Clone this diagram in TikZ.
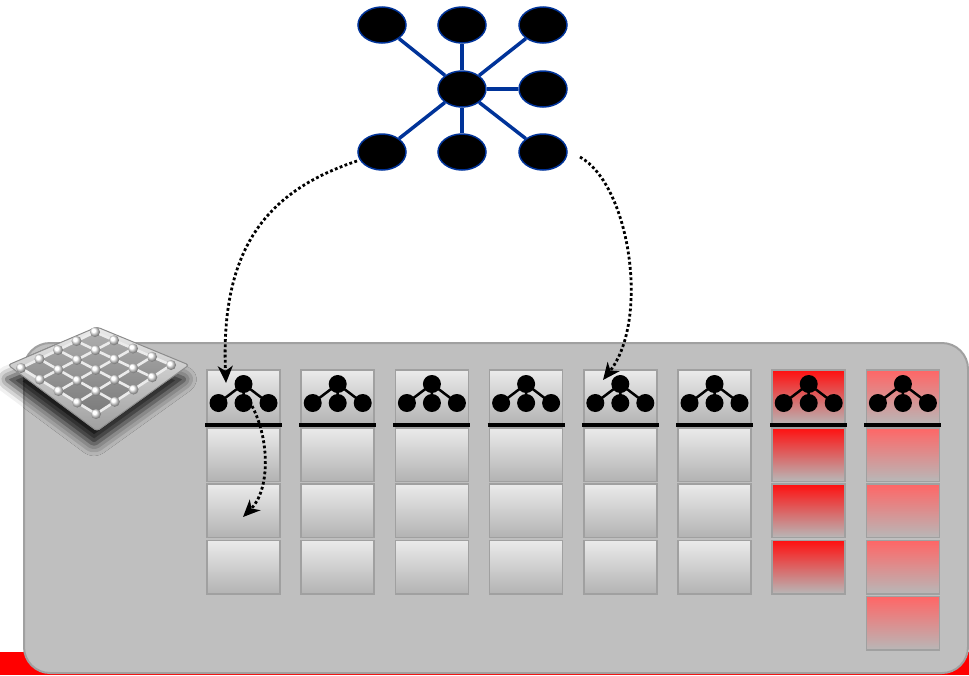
\documentclass[tikz,border=0pt]{standalone}
\usepackage{tikz}
\usetikzlibrary{
	positioning,
	arrows.meta,
	shapes.geometric,
	calc,
	shadows.blur
}

\definecolor{linkblue}{RGB}{0,51,153}
\definecolor{panelgrey}{RGB}{191,191,191}
\definecolor{rimgrey}{RGB}{160,160,160}
\definecolor{hotred}{RGB}{255,16,16}
\definecolor{warmred}{RGB}{255,102,102}

\begin{document}
\begin{tikzpicture}[
			x=1pt,y=-1pt,
			node distance=21.2pt,
			vertex/.style={
				ellipse,
				draw=linkblue,
				line width=1.5pt,
				fill=black,
				minimum width=48pt,
				minimum height=36pt,
				inner sep=0pt
			},
			link/.style={draw=linkblue,line width=3.5pt},
			cell/.style={
				draw=rimgrey,
				line width=1.5pt,
				top color=black!8,
				bottom color=black!30,
				minimum width=73pt,
				minimum height=53.5pt,
				inner sep=0pt,
				outer sep=0pt
			},
			hotcell/.style={cell,top color=hotred,bottom color=black!28},
			warmcell/.style={cell,top color=warmred,bottom color=black!28},
			head/.style={minimum height=55pt},
			bar/.style={line width=3.5pt,black},
			wire/.style={white!92!black,line width=2.6pt},
			hop/.style={
				line width=2.8pt,
				dash pattern=on 2.8pt off 2.4pt,
				black,
				-{Stealth[length=17pt,width=15pt,inset=5pt]}
			},
			tree/.pic={
				\draw[line width=2.5pt] (-25,33) -- (0,14) -- (25,33) (0,14) -- (0,33);
				\fill (0,14) circle (9pt);
				\fill (-25,33) circle (9pt) (0,33) circle (9pt) (25,33) circle (9pt);
			}
			]
			
			\useasboundingbox (0,0) rectangle (969,675);
			
			\fill[red] (0,652) rectangle (969,675);
			\draw[fill=panelgrey,draw=rimgrey,line width=2pt,rounded corners=26pt]
				(24,343) rectangle (968,673);
			
			\coordinate (pl) at (8,365);
			\coordinate (pt) at (97,327);
			\coordinate (pr) at (189,365);
			\coordinate (pb) at (97,431);
			\coordinate (gl) at (21,368);
			\coordinate (gt) at (95,332);
			\coordinate (gr) at (171,365);
			\coordinate (gb) at (96,414);
			
			\fill[black!40,blur shadow={shadow xshift=-3pt,shadow yshift=-14pt,shadow blur radius=12pt,shadow opacity=90},rounded corners=3pt]
				(pl) -- (pt) -- (pr) -- (pb) -- cycle;
			\shade[top color=black!8,bottom color=black!38,draw=black!45,line width=1pt,rounded corners=3pt]
				(pl) -- (pt) -- (pr) -- (pb) -- cycle;
			\shade[top color=black!32,bottom color=black!52,draw=black!15,line width=1.5pt]
				(gl) -- (gt) -- (gr) -- (gb) -- cycle;
			\foreach \s in {0,0.25,0.5,0.75,1} {
				\draw[wire] ($(gl)!\s!(gt)$) -- ($(gb)!\s!(gr)$);
				\draw[wire] ($(gl)!\s!(gb)$) -- ($(gt)!\s!(gr)$);
			}
			\foreach \s in {0,0.25,0.5,0.75,1}
				\foreach \t in {0,0.25,0.5,0.75,1}
					\shade[ball color=white] ($ ($(gl)!\s!(gt)$)!\t!($(gb)!\s!(gr)$) $) circle (5pt);
			
			\node[cell,head] (h1) at (243.5,397.5) {};
			\node[cell,head,right=of h1] (h2) {};
			\node[cell,head,right=of h2] (h3) {};
			\node[cell,head,right=of h3] (h4) {};
			\node[cell,head,right=of h4] (h5) {};
			\node[cell,head,right=of h5] (h6) {};
			\node[hotcell,head,right=of h6] (h7) {};
			\node[warmcell,head,right=of h7] (h8) {};
			
			\foreach \i/\kind in {1/cell,2/cell,3/cell,4/cell,5/cell,6/cell,7/hotcell,8/warmcell} {
				\node[\kind,below=2.8pt of h\i] (c\i a) {};
				\node[\kind,below=2.8pt of c\i a] (c\i b) {};
				\node[\kind,below=2.8pt of c\i b] (c\i c) {};
				\draw[bar] ([xshift=-2pt]h\i.south west) -- ([xshift=2pt]h\i.south east);
				\pic at (h\i.north) {tree};
			}
			\node[warmcell,below=2.8pt of c8c] (c8d) {};
			
			\node[vertex] (hub) at (462,89) {};
			\node[vertex] (nw) at (382,25) {};
			\node[vertex] (nn) at (462,25) {};
			\node[vertex] (ne) at (543,25) {};
			\node[vertex] (ee) at (543,89) {};
			\node[vertex] (sw) at (382,152) {};
			\node[vertex] (ss) at (462,152) {};
			\node[vertex] (se) at (543,152) {};
			
			\foreach \v in {nw,nn,ne,ee,sw,ss,se}
				\path[link] (hub) -- (\v);
			
			\coordinate (rise1) at (357,161);
			\coordinate (rise5) at (580,157);
			\coordinate (drop1) at (226,383);
			\coordinate (drop5) at (603,380);
			\coordinate (lift1) at (252,406);
			\coordinate (sink1) at (243,517);
			
			\draw[hop] (rise1) .. controls (270,190) and (220,245) .. (drop1);
			\draw[hop] (rise5) .. controls (630,185) and (650,320) .. (drop5);
			\draw[hop] (lift1) .. controls (270,440) and (270,490) .. (sink1);
			
		\end{tikzpicture}
\end{document}
